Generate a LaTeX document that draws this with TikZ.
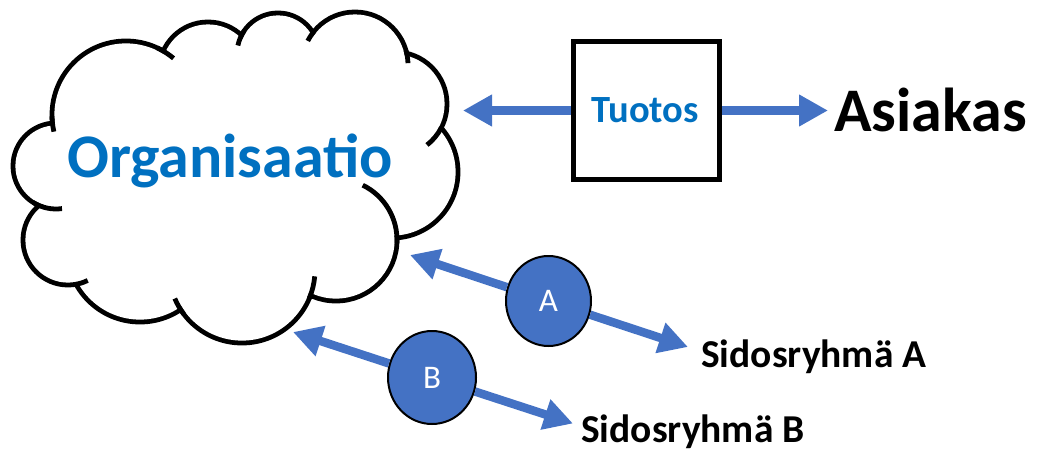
\documentclass[tikz,border=0pt]{standalone}
\usepackage{fontspec}
\setmainfont{Carlito}
\usetikzlibrary{arrows.meta,shapes.geometric}
\definecolor{accent}{HTML}{4472C4}
\definecolor{titleblue}{HTML}{0070C0}

% inner curl of the cloud: centre x, centre y (downwards), radius, start and end angle
\newcommand\cloudtick[5]{%
  \draw[line width=4.8pt] ([shift={(#4:#3pt)}]#1pt,-#2pt)
    arc[start angle=#4,end angle=#5,radius=#3pt];}

\begin{document}
\begin{tikzpicture}[x=1pt,y=1pt,
  arr/.style={draw=accent, line width=8.5pt, -{Triangle[length=29pt,width=30pt]}},
  party/.style={ellipse, draw=black, line width=2pt, fill=accent, text=white,
    inner sep=0pt, font=\fontsize{33}{33}\selectfont},
  product/.style={rectangle, draw=black, line width=5pt, fill=white,
    minimum width=146pt, minimum height=138pt, inner sep=0pt},
  lbl/.style={inner sep=0pt, font=\bfseries\fontsize{39.5}{39.5}\selectfont}]
\useasboundingbox (0,0) rectangle (1037,-450);

% cloud: union of puffs, outer rim only
\foreach \cx/\cy/\r in {126/115/74, 56/166/43, 68/240/45, 140/249/73, 242/270/73,
    336/240/61, 392/172/66, 395/104/52, 355/65/53, 278/54/41, 208/71/49}
  \draw[line width=9.6pt] (\cx,-\cy) circle[radius=\r pt-2.4pt];
\foreach \cx/\cy/\r in {126/115/74, 56/166/43, 68/240/45, 140/249/73, 242/270/73,
    336/240/61, 392/172/66, 395/104/52, 355/65/53, 278/54/41, 208/71/49}
  \fill[white] (\cx,-\cy) circle[radius=\r pt-2.4pt];
\fill[white] (126,-115) -- (56,-166) -- (68,-240) -- (140,-249) -- (242,-270)
  -- (336,-240) -- (392,-172) -- (395,-104) -- (355,-65) -- (278,-54) -- (208,-71) -- cycle;
\cloudtick{126}{115}{74}{181}{193}
\cloudtick{126}{115}{74}{65}{50}
\cloudtick{56}{166}{43}{238}{278}
\cloudtick{68}{240}{45}{277}{296}
\cloudtick{242}{270}{73}{217}{203}
\cloudtick{242}{270}{73}{337}{355}
\cloudtick{336}{240}{61}{-3}{64}
\cloudtick{395}{104}{52}{333}{308}
\cloudtick{355}{65}{53}{16}{2}
\cloudtick{355}{65}{53}{140}{153}
\cloudtick{278}{54}{41}{145}{168}

\node[anchor=base, inner sep=0pt, text=titleblue,
  font=\bfseries\fontsize{62}{62}\selectfont] (org) at (230,-177) {Organisaatio};

% product and customer
\node[product] (tuotos) at (646.5,-110.5) {};
\node[inner sep=0pt, anchor=base, text=titleblue,
  font=\bfseries\fontsize{38.5}{38.5}\selectfont] (tuotosText) at (645,-122) {Tuotos};
\coordinate (prodTipL) at (463,-110.5);
\coordinate (prodTipR) at (828,-110.5);
\draw[arr] (tuotos.west) -- (prodTipL);
\draw[arr] (tuotos.east) -- (prodTipR);
\node[anchor=base west, inner sep=0pt,
  font=\bfseries\fontsize{62}{62}\selectfont] (asiakas) at (834,-131) {Asiakas};

% stakeholder groups
\node[party, minimum width=85pt, minimum height=90pt] (gA) at (548.5,-301) {A};
\node[party, minimum width=88pt, minimum height=93pt] (gB) at (432,-377.5) {B};
\coordinate (tipA1) at (410,-255);
\coordinate (tipA2) at (688,-347);
\coordinate (tipB1) at (293,-332);
\coordinate (tipB2) at (573,-423.5);
\draw[arr] (gA) -- (tipA1);
\draw[arr] (gA) -- (tipA2);
\draw[arr] (gB) -- (tipB1);
\draw[arr] (gB) -- (tipB2);
\node[lbl, anchor=base west] (sidA) at (701,-367) {Sidosryhmä A};
\node[lbl, anchor=base west] (sidB) at (581,-442) {Sidosryhmä B};
\end{tikzpicture}
\end{document}
